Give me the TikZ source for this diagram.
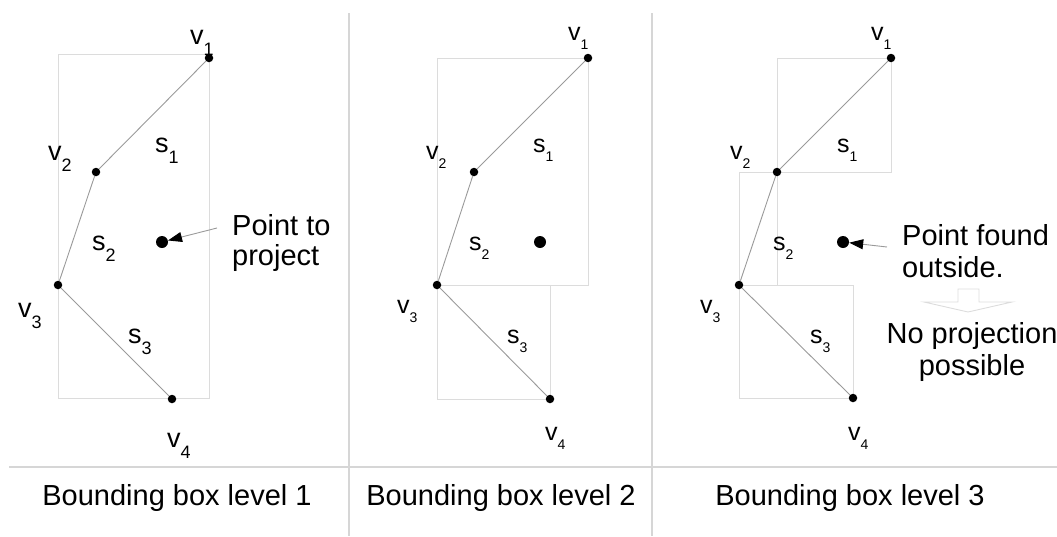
\documentclass[tikz,border=0pt]{standalone}
\usepackage{fontspec}
\setmainfont{Liberation Sans}
\usetikzlibrary{arrows.meta}
\definecolor{segc}{HTML}{9A9A9A}
\definecolor{boxc}{HTML}{DCDCDC}
\definecolor{sepc}{HTML}{D6D6D6}
\newcommand{\subA}[1]{\raisebox{-11pt}{\fontsize{18}{18}\selectfont #1}}
\newcommand{\subB}[1]{\raisebox{-9pt}{\fontsize{14}{14}\selectfont #1}}
\begin{document}
\begin{tikzpicture}[x=1pt,y=-1pt,
  dot/.style={circle,fill=black,inner sep=0pt,minimum size=8.5pt},
  bigdot/.style={circle,fill=black,inner sep=0pt,minimum size=12pt},
  seg/.style={draw=segc,line width=0.9pt},
  bbox/.style={draw=boxc,line width=1pt},
  sep/.style={draw=sepc,line width=1.3pt},
  lab/.style={anchor=base west,inner sep=0pt,font=\fontsize{25}{25}\selectfont},
  labA/.style={anchor=base west,inner sep=0pt,font=\fontsize{27}{27}\selectfont},
  txt/.style={inner sep=0pt,font=\fontsize{29}{31}\selectfont},
  pointer/.style={draw=segc,line width=0.9pt,-{Triangle[length=14pt,width=10pt,fill=black,color=black]}}
]
\useasboundingbox (0,0) rectangle (1057,536);
% separators
\draw[sep] (349,13) -- (349,536);
\draw[sep] (652,13) -- (652,536);
\draw[sep] (9,467) -- (1057,467);

% ---------- Panel 1 ----------
\draw[bbox] (58,54) rectangle (209,398);
\node[dot] (a1) at (209,58) {};
\node[dot] (a2) at (96,172) {};
\node[dot] (a3) at (58,285) {};
\node[dot] (a4) at (172,399) {};
\draw[seg] (a1) -- (a2) -- (a3) -- (a4);
\node[bigdot] (ap) at (162,242) {};
\coordinate (at) at (217,228);
\draw[pointer] (at) -- (ap);
\node[labA] (la1) at (190,44) {v\subA{1}};
\node[labA] (la2) at (48,160) {v\subA{2}};
\node[labA] (ls1) at (155,152) {s\subA{1}};
\node[labA] (ls2) at (92,250) {s\subA{2}};
\node[labA] (la3) at (18,317) {v\subA{3}};
\node[labA] (ls3) at (128,343) {s\subA{3}};
\node[labA] (la4) at (167,447) {v\subA{4}};
\node[txt,anchor=base west] (tp1) at (232,235) {Point to};
\node[txt,anchor=base west] (tp2) at (232,265) {project};
\node[txt,anchor=base] (cap1) at (177,505) {Bounding box level 1};

% ---------- Panel 2 ----------
\draw[bbox] (437,58) rectangle (588,285);
\draw[bbox] (437,285) rectangle (550,399);
\node[dot] (b1) at (588,58) {};
\node[dot] (b2) at (474,172) {};
\node[dot] (b3) at (437,285) {};
\node[dot] (b4) at (550,399) {};
\draw[seg] (b1) -- (b2) -- (b3) -- (b4);
\node[bigdot] (bp) at (540,242) {};
\node[lab] (lb1) at (568,40) {v\subB{1}};
\node[lab] (lb2) at (426,159) {v\subB{2}};
\node[lab] (lt1) at (533,152) {s\subB{1}};
\node[lab] (lt2) at (469,250) {s\subB{2}};
\node[lab] (lb3) at (397,313) {v\subB{3}};
\node[lab] (lt3) at (507,343) {s\subB{3}};
\node[lab] (lb4) at (545,440) {v\subB{4}};
\node[txt,anchor=base] (cap2) at (501,505) {Bounding box level 2};

% ---------- Panel 3 ----------
\draw[bbox] (777,58) rectangle (891,172);
\draw[bbox] (739,172) rectangle (777,285);
\draw[bbox] (739,285) rectangle (853,398);
\node[dot] (c1) at (891,58) {};
\node[dot] (c2) at (777,172) {};
\node[dot] (c3) at (739,285) {};
\node[dot] (c4) at (853,398) {};
\draw[seg] (c1) -- (c2) -- (c3) -- (c4);
\node[bigdot] (cp) at (843,242) {};
\coordinate (ct) at (887,247);
\draw[pointer] (ct) -- (cp);
\node[lab] (lc1) at (871,40) {v\subB{1}};
\node[lab] (lc2) at (730,159) {v\subB{2}};
\node[lab] (lu1) at (837,152) {s\subB{1}};
\node[lab] (lu2) at (773,250) {s\subB{2}};
\node[lab] (lc3) at (700,313) {v\subB{3}};
\node[lab] (lu3) at (810,343) {s\subB{3}};
\node[lab] (lc4) at (848,440) {v\subB{4}};
\node[txt,anchor=base west] (tq1) at (902,245) {Point found};
\node[txt,anchor=base west] (tq2) at (902,277) {outside.};
\draw[draw=boxc,line width=0.9pt,line join=miter] (958,289) -- (979,289) -- (979,302) -- (1012,302) -- (968,312) -- (924,302) -- (958,302) -- cycle;
\node[txt,anchor=base] (tq3) at (972,343) {No projection};
\node[txt,anchor=base] (tq4) at (972,375) {possible};
\node[txt,anchor=base] (cap3) at (850,505) {Bounding box level 3};
\end{tikzpicture}
\end{document}
